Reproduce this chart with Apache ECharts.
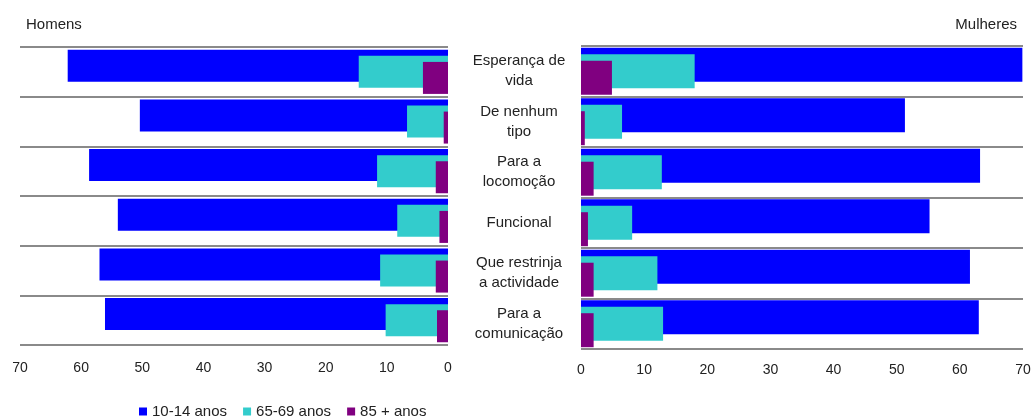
<!DOCTYPE html>
<html>
<head>
<meta charset="utf-8">
<script src="https://cdn.jsdelivr.net/npm/echarts@6/dist/echarts.min.js"></script>
<style>
    html, body { margin: 0; padding: 0; background: #fff; }
    #chart-container { width: 1035px; height: 417px; }
</style>
</head>
<body>
<div id="chart-container"></div>
<script>
// categorias (de cima para baixo)
var categorias = ['Esperança de\nvida', 'De nenhum\ntipo', 'Para a\nlocomoção', 'Funcional', 'Que restrinja\na actividade', 'Para a\ncomunicação'];
var grupos = ['10-14 anos', '65-69 anos', '85 + anos'];
var eixoTicks = [0, 10, 20, 30, 40, 50, 60, 70];

// Homens
var homens1014 = [62.2, 50.4, 58.7, 54.0, 57.0, 56.1];
var homens6569 = [14.6, 6.7, 11.6, 8.3, 11.1, 10.2];
var homens85 = [4.1, 0.7, 2.0, 1.4, 2.0, 1.8];

// Mulheres
var mulheres1014 = [69.9, 51.3, 63.2, 55.2, 61.6, 63.0];
var mulheres6569 = [18.0, 6.5, 12.8, 8.1, 12.1, 13.0];
var mulheres85 = [4.9, 0.6, 2.0, 1.1, 2.0, 2.0];

var cores = ['#0000ff', '#33cccc', '#800080'];
var fonte = 'Liberation Sans, Arial, sans-serif';

var chartContainer = document.getElementById('chart-container');
var myChart = echarts.init(chartContainer);

function eixoX(grid, inverse, margin) {
    return {
        type: 'value',
        gridIndex: grid,
        inverse: inverse,
        min: eixoTicks[0],
        max: eixoTicks[eixoTicks.length - 1],
        interval: 10,
        axisLine: { show: false },
        axisTick: { show: false },
        splitLine: { show: false },
        axisLabel: { color: '#222', fontSize: 14, fontFamily: fonte, margin: margin }
    };
}

function eixoY(grid, showLabel) {
    return {
        type: 'category',
        gridIndex: grid,
        inverse: true,
        data: categorias,
        axisLine: { show: false },
        axisTick: { show: false },
        splitLine: { show: true, lineStyle: { color: '#8a8a8a', width: 2 } },
        axisLabel: {
            show: showLabel,
            align: 'center',
            margin: 62,
            color: '#222',
            fontSize: 15,
            lineHeight: 20,
            fontFamily: fonte
        }
    };
}

function serie(nome, dados, idx, barWidth) {
    return {
        name: nome,
        type: 'bar',
        xAxisIndex: idx,
        yAxisIndex: idx,
        data: dados,
        barWidth: barWidth,
        barGap: '-81%',
        itemStyle: { color: cores[grupos.indexOf(nome)] },
        emphasis: { disabled: true }
    };
}

var options = {
    animation: false,
    title: [
        { text: 'Homens', left: 21, top: 12, textStyle: { fontSize: 15, fontWeight: 'normal', color: '#222', fontFamily: fonte } },
        { text: 'Mulheres', right: 13, top: 12, textStyle: { fontSize: 15, fontWeight: 'normal', color: '#222', fontFamily: fonte } }
    ],
    legend: {
        data: grupos,
        left: 134,
        top: 399,
        icon: 'rect',
        itemWidth: 8,
        itemHeight: 8,
        itemGap: 16,
        textStyle: { fontSize: 15, color: '#222', fontFamily: fonte }
    },
    grid: [
        { left: 20, right: 587, top: 47, height: 298 },
        { left: 581, right: 12, top: 46, height: 303 }
    ],
    xAxis: [eixoX(0, true, 16), eixoX(1, false, 14)],
    yAxis: [eixoY(0, false), eixoY(1, true)],
    series: [
        serie(grupos[0], homens1014, 0, 32),
        serie(grupos[1], homens6569, 0, 32),
        serie(grupos[2], homens85, 0, 32),
        serie(grupos[0], mulheres1014, 1, 34),
        serie(grupos[1], mulheres6569, 1, 34),
        serie(grupos[2], mulheres85, 1, 34)
    ]
};

myChart.setOption(options);
</script>
</body>
</html>
